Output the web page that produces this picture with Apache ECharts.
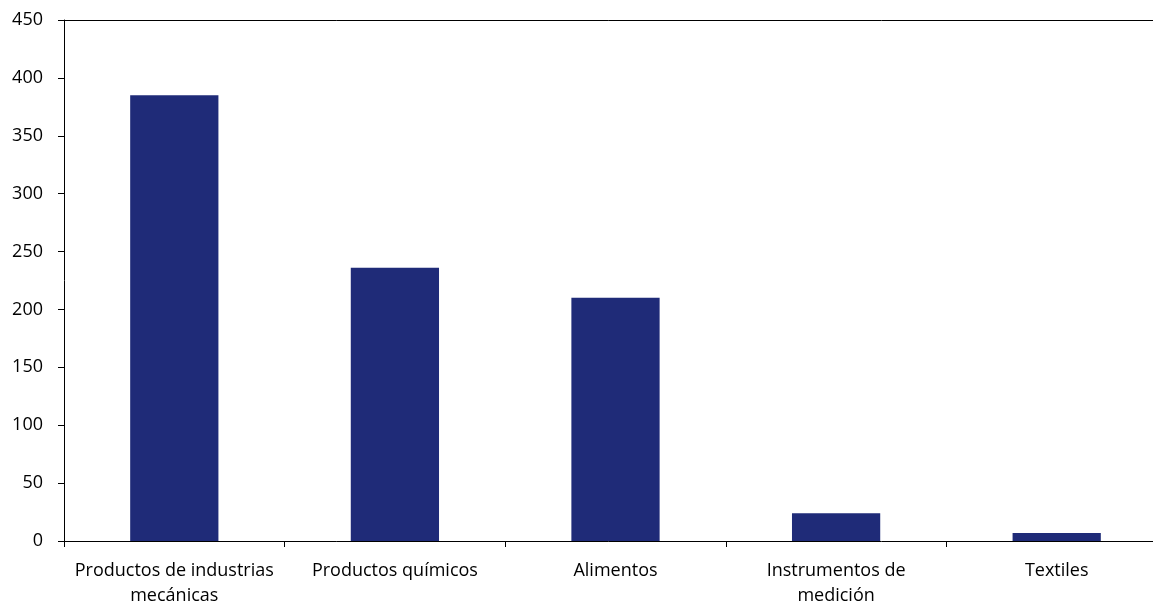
<!DOCTYPE html>
<html>
<head>
<meta charset="utf-8">
<script src="https://cdn.jsdelivr.net/npm/echarts@6/dist/echarts.min.js"></script>
<style>html,body{margin:0;padding:0;background:#fff;}#c{width:1153px;height:602px;}</style>
</head>
<body>
<div id="c"></div>
<script>
const categories = ["Productos de industrias\nmecánicas", "Productos químicos", "Alimentos", "Instrumentos de\nmedición", "Textiles"];
const values = [385, 236, 210, 24, 7];
const yTicks = { min: 0, max: 450, interval: 50 };

const chart = echarts.init(document.getElementById('c'));
const font = "'Open Sans', sans-serif";
chart.setOption({
  animation: false,
  grid: { left: 64, top: 20, bottom: 61, right: -14, containLabel: false, outerBoundsMode: 'none' },
  xAxis: [{
    type: 'category',
    data: categories,
    axisLine: { lineStyle: { color: '#000', width: 1 } },
    axisTick: { show: true, length: 6, lineStyle: { color: '#000' } },
    axisLabel: { color: '#000', fontSize: 18, fontFamily: font, margin: 17, lineHeight: 25, interval: 0 }
  }, {
    type: 'category',
    position: 'top',
    data: categories,
    axisLine: { lineStyle: { color: '#000', width: 1 } },
    axisTick: { show: false },
    axisLabel: { show: false }
  }],
  yAxis: {
    type: 'value',
    min: yTicks.min, max: yTicks.max, interval: yTicks.interval,
    axisLine: { show: true, lineStyle: { color: '#000', width: 1 } },
    axisTick: { show: true, length: 6, lineStyle: { color: '#000' } },
    splitLine: { show: false },
    axisLabel: { color: '#000', fontSize: 18, fontFamily: font, margin: 21 }
  },
  series: [{
    type: 'bar',
    data: values,
    barWidth: '40%',
    itemStyle: { color: '#1f2b78' }
  }]
});
</script>
</body>
</html>
